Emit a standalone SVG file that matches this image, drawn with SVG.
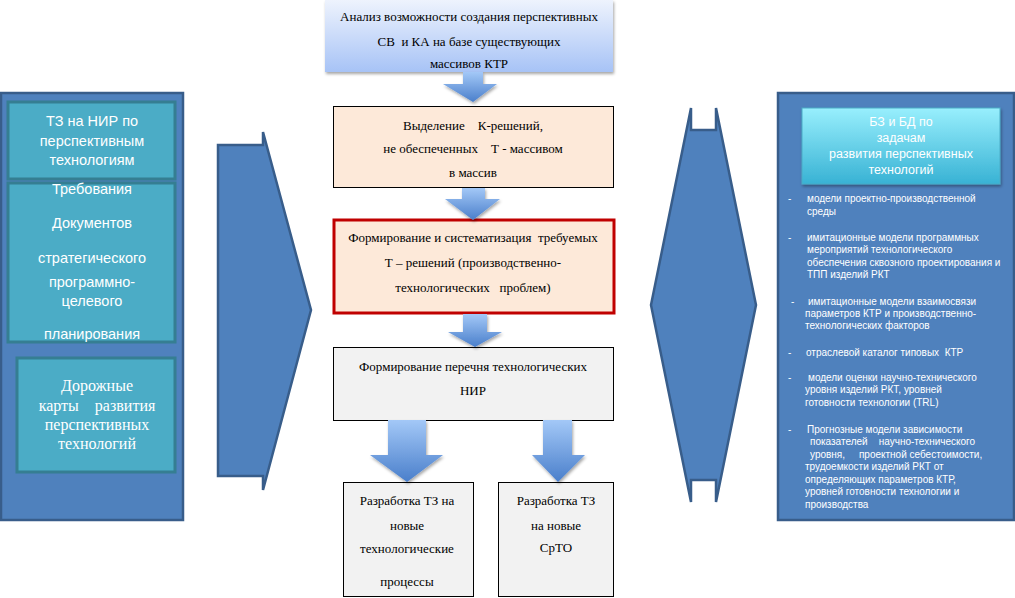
<svg xmlns="http://www.w3.org/2000/svg" width="1015" height="598" viewBox="0 0 1015 598">
<defs>
<linearGradient id="gTop" x1="0" y1="0" x2="0" y2="1"><stop offset="0" stop-color="#eef3fd"/><stop offset="1" stop-color="#a7c3f6"/></linearGradient>
<linearGradient id="gCyan" x1="0" y1="0" x2="0" y2="1"><stop offset="0" stop-color="#98effd"/><stop offset="1" stop-color="#38b2d4"/></linearGradient>
<linearGradient id="gArrow" x1="0" y1="0" x2="0" y2="1"><stop offset="0" stop-color="#a3c8f7"/><stop offset="1" stop-color="#4a7fcb"/></linearGradient>
<filter id="sh" x="-10%" y="-10%" width="125%" height="135%"><feDropShadow dx="1" dy="2" stdDeviation="1.5" flood-color="#000" flood-opacity="0.35"/></filter>
<style>
.panel{fill:#4f81bd;stroke:#385d8a;stroke-width:2.5}
.teal{fill:#4bacc6;stroke:#357e92;stroke-width:3}
.bx{stroke:#000;stroke-width:1}
.peach{fill:#fde9d9}
.gray{fill:#f2f2f2}
.ser{font-family:'Liberation Serif','Times New Roman',serif;font-size:13px;fill:#000;text-anchor:middle}
.sw{font-family:"Liberation Sans",Arial,sans-serif;fill:#fff}
.lt{font-size:14.5px;text-anchor:middle}
.rt{font-size:12.5px;text-anchor:middle}
.bl{font-size:10px}
.serw{font-family:'Liberation Serif','Times New Roman',serif;font-size:16px;fill:#fff;text-anchor:middle}
.arr{fill:url(#gArrow)}
</style>
</defs>

<g id="left-panel">
<rect class="panel" x="1" y="93" width="182" height="427"/>
</g>
<g id="left-box-1">
<rect class="teal" x="8" y="102" width="167" height="77"/>
<text class="sw lt"><tspan x="92" y="126">ТЗ на НИР по</tspan><tspan x="92" y="146">перспективным</tspan><tspan x="92" y="165">технологиям</tspan></text>
</g>
<g id="left-box-2">
<rect class="teal" x="8" y="183" width="167" height="159"/>
<text class="sw lt"><tspan x="92" y="194">Требования</tspan><tspan x="92" y="228">Документов</tspan><tspan x="92" y="263">стратегического</tspan><tspan x="92" y="287">программно-</tspan><tspan x="92" y="306">целевого</tspan><tspan x="92" y="339">планирования</tspan></text>
</g>
<g id="left-box-3">
<rect class="teal" x="17" y="358" width="158" height="114"/>
<text class="serw"><tspan x="97" y="391">Дорожные</tspan><tspan x="97" y="411">карты&#160;&#160;&#160; развития</tspan><tspan x="97" y="430">перспективных</tspan><tspan x="97" y="449">технологий</tspan></text>
</g>

<g id="left-big-arrow">
<path class="panel" d="M218,145 H263 V132 L311,310 L263,490 V476 H218 Z"/>
</g>
<g id="right-big-arrow">
<path class="panel" d="M691,108 V130 H716 V108 L756,305 L716,502 V480 H691 V502 L651,305 Z"/>
</g>

<g id="right-panel">
<rect class="panel" x="778" y="93" width="236" height="427"/>
<rect x="802" y="108" width="198" height="76" fill="url(#gCyan)" stroke="#4bacc6" stroke-width="1" filter="url(#sh)"/>
<text class="sw rt"><tspan x="901" y="126">БЗ и БД по</tspan><tspan x="901" y="142">задачам</tspan><tspan x="901" y="158">развития перспективных</tspan><tspan x="901" y="174">технологий</tspan></text>
<text class="sw bl"><tspan x="788" y="202">-</tspan><tspan x="807" y="202">модели проектно-производственной</tspan><tspan x="807" y="215">среды</tspan><tspan x="788" y="241">-</tspan><tspan x="807" y="241">имитационные модели программных</tspan><tspan x="807" y="253">мероприятий технологического</tspan><tspan x="807" y="266">обеспечения сквозного проектирования и</tspan><tspan x="807" y="278">ТПП изделий РКТ</tspan><tspan x="791" y="305">-</tspan><tspan x="808" y="305">имитационные модели взаимосвязи</tspan><tspan x="805" y="317">параметров КТР и производственно-</tspan><tspan x="805" y="329">технологических факторов</tspan><tspan x="788" y="356">-</tspan><tspan x="806" y="356">отраслевой каталог типовых&#160; КТР</tspan><tspan x="788" y="381">-</tspan><tspan x="808" y="381">модели оценки научно-технического</tspan><tspan x="805" y="393">уровня изделий РКТ, уровней</tspan><tspan x="805" y="406">готовности технологии (TRL)</tspan><tspan x="788" y="433">-</tspan><tspan x="807" y="433">Прогнозные модели зависимости</tspan><tspan x="810" y="445">показателей&#160;&#160;&#160; научно-технического</tspan><tspan x="810" y="458">уровня,&#160;&#160;&#160;&#160; проектной себестоимости,</tspan><tspan x="805" y="470">трудоемкости изделий РКТ от</tspan><tspan x="805" y="483">определяющих параметров КТР,</tspan><tspan x="805" y="495">уровней готовности технологии и</tspan><tspan x="805" y="508">производства</tspan></text>
</g>

<g id="node-analysis">
<rect x="325" y="0" width="288" height="72" fill="url(#gTop)" filter="url(#sh)"/>
<text class="ser"><tspan x="469" y="21">Анализ возможности создания перспективных</tspan><tspan x="469" y="46">СВ&#160; и КА на базе существующих</tspan><tspan x="469" y="68">массивов КТР</tspan></text>
</g>
<g id="node-select">
<rect class="bx peach" x="333.5" y="106.5" width="280" height="81"/>
<text class="ser"><tspan x="473" y="130">Выделение&#160;&#160;&#160; К-решений,</tspan><tspan x="473" y="153">не обеспеченных&#160;&#160;&#160; Т - массивом</tspan><tspan x="473" y="177">в массив</tspan></text>
</g>
<g id="node-form">
<rect x="334" y="220" width="280" height="93" fill="#fde9d9" stroke="#c00000" stroke-width="3"/>
<text class="ser"><tspan x="473" y="242">Формирование и систематизация&#160; требуемых</tspan><tspan x="473" y="267">Т – решений (производственно-</tspan><tspan x="473" y="292">технологических&#160;&#160; проблем)</tspan></text>
</g>
<g id="node-list">
<rect class="bx gray" x="333.5" y="347.5" width="280" height="73"/>
<text class="ser"><tspan x="473" y="371">Формирование перечня технологических</tspan><tspan x="473" y="395">НИР</tspan></text>
</g>
<g id="node-tz-proc">
<rect class="bx gray" x="343.5" y="482.5" width="130" height="114"/>
<text class="ser"><tspan x="407" y="505">Разработка ТЗ на</tspan><tspan x="407" y="530">новые</tspan><tspan x="407" y="553">технологические</tspan><tspan x="407" y="586">процессы</tspan></text>
</g>
<g id="node-tz-srto">
<rect class="bx gray" x="498.5" y="482.5" width="115" height="114"/>
<text class="ser"><tspan x="556" y="505">Разработка ТЗ</tspan><tspan x="556" y="530">на новые</tspan><tspan x="556" y="552">СрТО</tspan></text>
</g>

<g id="connectors">
<path class="arr" d="M463,72 H483 V84 H497 L473,102 L443,84 H463 Z" filter="url(#sh)"/>
<path class="arr" d="M462,188 H485 V199 H500 L473,220 L445,199 H462 Z" filter="url(#sh)"/>
<path class="arr" d="M463,314 H487 V332 H502 L475,347 L448,332 H463 Z" filter="url(#sh)"/>
<path class="arr" d="M388,420 H426 V455 H443 L407,482 L370,455 H388 Z" filter="url(#sh)"/>
<path class="arr" d="M543,420 H572 V455 H585 L558,482 L532,455 H543 Z" filter="url(#sh)"/>
</g>
</svg>
